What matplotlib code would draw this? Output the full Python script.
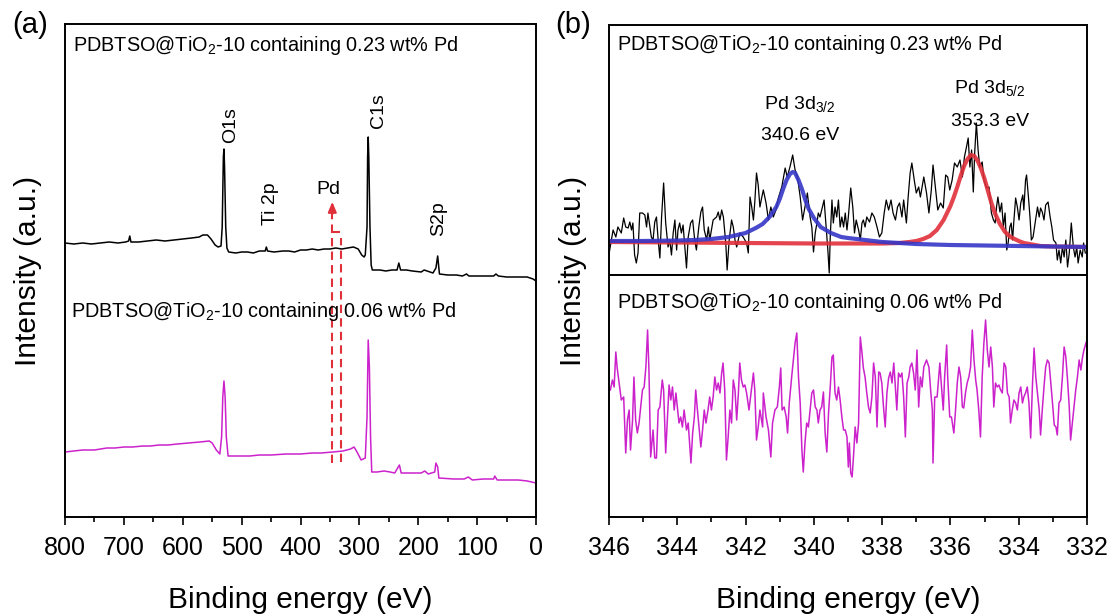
import numpy as np
import matplotlib
matplotlib.use("Agg")
import matplotlib.pyplot as plt
from matplotlib.ticker import MultipleLocator

plt.rcParams['font.family'] = ['Liberation Sans', 'DejaVu Sans']
plt.rcParams['mathtext.fontset'] = 'custom'
plt.rcParams['mathtext.rm'] = 'Liberation Sans'

# ---- data (binding energy in eV, intensity in a.u.) ----
# (a) survey spectra
survey_023 = [(800, 274), (785, 273), (770, 274), (755, 273), (740, 274), (725, 275), (710, 274),
              (697, 275), (692, 276), (690, 281), (688, 275), (675, 275), (660, 276), (645, 277),
              (630, 276), (615, 277), (600, 278), (585, 279), (572, 280), (566, 282), (558, 282),
              (552, 278), (545, 272), (540, 270), (535, 271), (533, 290), (531, 360), (530, 368),
              (529, 350), (527, 290), (525, 269), (522, 265), (510, 264), (500, 265), (490, 265),
              (480, 264), (470, 266), (460, 266), (458, 270), (456, 266), (445, 265), (430, 266),
              (420, 266), (410, 265), (400, 267), (390, 267), (380, 268), (370, 267), (360, 268),
              (350, 268), (340, 269), (330, 268), (320, 269), (310, 270), (302, 268), (296, 262),
              (292, 260), (290, 262), (287, 290), (286, 360), (285, 380), (284, 360), (282, 290),
              (280, 252), (278, 247), (265, 247), (255, 246), (245, 247), (236, 247), (233, 254),
              (230, 247), (220, 247), (210, 246), (195, 245), (190, 247), (185, 246), (175, 244),
              (170, 249), (167, 261), (164, 243), (150, 242), (135, 242), (125, 241), (118, 243),
              (114, 241), (100, 241), (90, 241), (72, 241), (68, 243), (64, 241), (50, 240),
              (30, 240), (15, 240), (5, 238), (0, 236)]

survey_006 = [(800, 65), (785, 66), (770, 67), (750, 67), (729, 69), (715, 69), (700, 70), (685, 70),
              (668, 71), (655, 71), (640, 72), (625, 72), (609, 73), (590, 74), (571, 75), (555, 76),
              (550, 74), (543, 67), (537, 63), (534, 80), (532, 120), (530, 136), (528, 120),
              (526, 80), (523, 61), (505, 61), (486, 61), (470, 62), (450, 62), (425, 63), (410, 63),
              (400, 63), (380, 64), (365, 64), (345, 65), (328, 66), (315, 68), (309, 70), (304, 65),
              (297, 57), (290, 59), (287, 100), (285, 177), (283, 150), (281, 80), (279, 45),
              (270, 45), (258, 46), (248, 45), (240, 44), (234, 50), (232, 52), (229, 44), (210, 44),
              (195, 44), (189, 46), (183, 43), (172, 45), (170, 54), (167, 50), (165, 39), (140, 38),
              (122, 38), (115, 40), (108, 37), (90, 38), (72, 38), (70, 41), (66, 37), (45, 37),
              (30, 37), (15, 36), (0, 34)]

pd_lines = [346, 332]  # region shown in (b)

# (b) Pd 3d region, 0.23 wt% Pd (raw)
pd_023 = [(346.03, 10), (345.98, 23), (345.88, 43), (345.80, 36), (345.74, 46), (345.64, 40),
          (345.57, 55), (345.51, 46), (345.44, 45), (345.39, 51), (345.34, 43), (345.30, 50),
          (345.25, 18), (345.20, 10), (345.15, 20), (345.10, 60), (345.02, 60), (344.95, 58),
          (344.90, 46), (344.86, 60), (344.76, 36), (344.71, 33), (344.66, 51), (344.61, 56),
          (344.56, 33), (344.51, 15), (344.46, 56), (344.40, 90), (344.34, 50), (344.27, 26),
          (344.22, 33), (344.17, 18), (344.12, 40), (344.07, 53), (344.02, 23), (343.98, 43),
          (343.93, 50), (343.88, 40), (343.83, 48), (343.78, 26), (343.73, 5), (343.68, 36),
          (343.61, 50), (343.55, 53), (343.49, 33), (343.44, 23), (343.37, 46), (343.31, 61),
          (343.26, 66), (343.21, 43), (343.14, 33), (343.09, 46), (343.05, 33), (343.00, 43),
          (342.95, 53), (342.85, 56), (342.80, 61), (342.75, 53), (342.70, 63), (342.65, 56),
          (342.58, 30), (342.54, 3), (342.48, 33), (342.41, 53), (342.36, 46), (342.31, 33),
          (342.26, 26), (342.17, 40), (342.07, 36), (341.97, 30), (341.92, 20), (341.87, 76),
          (341.82, 66), (341.77, 53), (341.73, 71), (341.68, 100), (341.63, 88), (341.58, 66),
          (341.53, 75), (341.48, 83), (341.40, 70), (341.33, 53), (341.26, 66), (341.19, 56),
          (341.11, 63), (341.04, 75), (340.94, 86), (340.84, 105), (340.78, 96), (340.70, 106),
          (340.62, 118), (340.55, 103), (340.48, 96), (340.40, 76), (340.33, 53), (340.26, 66),
          (340.19, 80), (340.11, 56), (340.06, 46), (340.01, 21), (339.96, 40), (339.91, 50),
          (339.87, 60), (339.82, 56), (339.77, 63), (339.70, 73), (339.64, 46), (339.59, 23),
          (339.55, 0), (339.52, 36), (339.47, 73), (339.43, 50), (339.38, 66), (339.33, 56),
          (339.28, 73), (339.23, 46), (339.18, 56), (339.13, 46), (339.08, 60), (339.03, 43),
          (338.99, 56), (338.92, 85), (338.86, 66), (338.81, 40), (338.76, 53), (338.69, 43),
          (338.64, 33), (338.59, 50), (338.55, 53), (338.50, 46), (338.45, 56), (338.37, 51),
          (338.30, 60), (338.23, 56), (338.15, 46), (338.08, 36), (338.01, 40), (337.94, 60),
          (337.88, 73), (337.81, 63), (337.74, 73), (337.68, 60), (337.61, 53), (337.55, 66),
          (337.49, 70), (337.42, 56), (337.37, 73), (337.29, 50), (337.24, 75), (337.18, 100),
          (337.13, 110), (337.06, 93), (337.00, 80), (336.93, 86), (336.88, 76), (336.78, 96),
          (336.70, 80), (336.63, 60), (336.56, 83), (336.51, 108), (336.44, 86), (336.37, 63),
          (336.29, 70), (336.21, 65), (336.14, 98), (336.08, 96), (336.02, 83), (335.95, 93),
          (335.88, 110), (335.80, 106), (335.72, 113), (335.65, 96), (335.59, 116), (335.53, 126),
          (335.48, 135), (335.43, 106), (335.38, 123), (335.33, 81), (335.29, 120), (335.24, 150),
          (335.19, 123), (335.14, 106), (335.07, 111), (335.02, 93), (334.94, 85), (334.87, 86),
          (334.80, 60), (334.74, 53), (334.69, 50), (334.65, 66), (334.61, 76), (334.55, 61),
          (334.50, 70), (334.45, 46), (334.40, 60), (334.35, 23), (334.31, 30), (334.26, 46),
          (334.22, 50), (334.18, 33), (334.14, 53), (334.09, 75), (334.04, 66), (333.99, 53),
          (333.94, 70), (333.88, 78), (333.85, 63), (333.80, 93), (333.77, 98), (333.72, 78),
          (333.67, 56), (333.63, 33), (333.58, 36), (333.52, 50), (333.45, 66), (333.40, 56),
          (333.36, 65), (333.31, 61), (333.26, 53), (333.21, 68), (333.14, 71), (333.08, 56),
          (333.03, 46), (332.98, 33), (332.91, 30), (332.87, 13), (332.82, 23), (332.77, 10),
          (332.72, 26), (332.67, 16), (332.62, 33), (332.57, 6), (332.52, 20), (332.46, 50),
          (332.40, 26), (332.35, 16), (332.30, 26), (332.26, 10), (332.20, 23), (332.14, 16),
          (332.10, 30), (332.05, 20)]

# fitted components
fit_32 = [(346.0, 32), (345.0, 32), (344.0, 32.5), (343.5, 33), (343.0, 34), (342.5, 36),
          (342.0, 40), (341.7, 45), (341.5, 49), (341.3, 56), (341.2, 61), (341.1, 66),
          (341.0, 74), (340.9, 84), (340.8, 93), (340.7, 99), (340.62, 101), (340.55, 100),
          (340.45, 93), (340.35, 84), (340.25, 73), (340.15, 64), (340.0, 55), (339.8, 46),
          (339.5, 40), (339.2, 36), (339.0, 35), (338.5, 33), (338.0, 31), (337.0, 29),
          (336.0, 28), (335.0, 27.5), (334.0, 27), (332.0, 26)]
fit_52 = [(346.0, 31), (344.0, 30.5), (342.0, 30), (340.0, 29.5), (338.0, 29.5), (337.5, 30),
          (337.2, 31), (337.0, 32), (336.8, 34), (336.6, 37), (336.4, 43), (336.2, 53),
          (336.0, 67), (335.9, 76), (335.8, 86), (335.7, 97), (335.6, 107), (335.5, 114),
          (335.4, 118), (335.3, 117), (335.2, 112), (335.1, 104), (335.0, 94), (334.9, 82),
          (334.8, 70), (334.7, 60), (334.55, 49), (334.4, 41), (334.24, 36), (334.0, 32),
          (333.85, 30), (333.36, 27), (333.0, 26.5), (332.0, 26)]

# (b) Pd 3d region, 0.06 wt% Pd
pd_006 = [(346.03, 127), (345.96, 127), (345.90, 137), (345.85, 130), (345.80, 165), (345.76, 149),
          (345.69, 130), (345.64, 117), (345.57, 120), (345.51, 64), (345.46, 97), (345.41, 107),
          (345.37, 67), (345.31, 97), (345.27, 140), (345.22, 97), (345.17, 84), (345.12, 94),
          (345.08, 107), (345.02, 127), (344.97, 130), (344.92, 150), (344.87, 187), (344.83, 147),
          (344.78, 60), (344.71, 87), (344.66, 59), (344.61, 59), (344.56, 107), (344.51, 110),
          (344.44, 137), (344.40, 127), (344.34, 64), (344.29, 97), (344.24, 132), (344.19, 117),
          (344.14, 130), (344.09, 107), (344.04, 124), (343.99, 107), (343.95, 94), (343.90, 100),
          (343.85, 90), (343.80, 107), (343.73, 87), (343.68, 94), (343.60, 54), (343.55, 84),
          (343.50, 100), (343.46, 127), (343.41, 107), (343.31, 70), (343.26, 87), (343.21, 107),
          (343.16, 94), (343.10, 107), (343.05, 120), (343.00, 107), (342.95, 120), (342.90, 140),
          (342.85, 127), (342.80, 134), (342.75, 124), (342.70, 144), (342.66, 154), (342.61, 127),
          (342.56, 57), (342.51, 80), (342.46, 107), (342.41, 94), (342.36, 137), (342.31, 127),
          (342.26, 97), (342.21, 124), (342.17, 154), (342.12, 137), (342.07, 130), (342.02, 132),
          (341.97, 124), (341.90, 107), (341.84, 124), (341.77, 144), (341.73, 127), (341.68, 77),
          (341.63, 90), (341.58, 107), (341.50, 90), (341.48, 124), (341.40, 100), (341.33, 87),
          (341.26, 60), (341.21, 94), (341.14, 107), (341.07, 110), (341.01, 130), (340.97, 149),
          (340.93, 107), (340.87, 110), (340.81, 100), (340.77, 84), (340.72, 114), (340.65, 140),
          (340.60, 157), (340.55, 174), (340.50, 184), (340.45, 140), (340.40, 114), (340.35, 67),
          (340.31, 45), (340.26, 74), (340.21, 94), (340.16, 90), (340.11, 107), (340.06, 124),
          (340.01, 127), (339.96, 110), (339.91, 107), (339.87, 94), (339.82, 107), (339.77, 110),
          (339.72, 125), (339.67, 84), (339.62, 65), (339.57, 104), (339.52, 130), (339.47, 160),
          (339.43, 162), (339.38, 124), (339.33, 117), (339.28, 130), (339.23, 117), (339.18, 100),
          (339.13, 87), (339.08, 87), (339.03, 80), (338.99, 50), (338.96, 74), (338.92, 44),
          (338.88, 40), (338.84, 60), (338.79, 90), (338.74, 74), (338.69, 94), (338.64, 180),
          (338.59, 164), (338.55, 149), (338.50, 140), (338.45, 124), (338.40, 110), (338.35, 104),
          (338.30, 120), (338.25, 154), (338.20, 140), (338.15, 90), (338.10, 145), (338.06, 144),
          (338.01, 134), (337.96, 110), (337.91, 90), (337.86, 124), (337.81, 139), (337.76, 145),
          (337.71, 134), (337.66, 154), (337.62, 134), (337.57, 107), (337.52, 144), (337.47, 140),
          (337.42, 144), (337.37, 120), (337.32, 80), (337.27, 134), (337.22, 140), (337.18, 150),
          (337.13, 154), (337.08, 144), (337.03, 127), (336.98, 167), (336.93, 110), (336.88, 140),
          (336.83, 130), (336.78, 150), (336.70, 157), (336.63, 150), (336.58, 127), (336.53, 107),
          (336.51, 54), (336.46, 120), (336.39, 120), (336.31, 154), (336.27, 134), (336.21, 107),
          (336.17, 140), (336.11, 172), (336.08, 140), (336.02, 100), (335.97, 100), (335.90, 84),
          (335.85, 107), (335.80, 134), (335.75, 150), (335.70, 140), (335.65, 110), (335.61, 109),
          (335.56, 124), (335.51, 134), (335.46, 140), (335.41, 150), (335.36, 187), (335.31, 157),
          (335.26, 137), (335.22, 127), (335.17, 107), (335.12, 80), (335.07, 140), (335.02, 174),
          (334.97, 197), (334.92, 167), (334.87, 150), (334.82, 170), (334.77, 150), (334.73, 110),
          (334.68, 134), (334.63, 130), (334.58, 132), (334.53, 127), (334.48, 124), (334.43, 154),
          (334.38, 150), (334.33, 124), (334.28, 120), (334.24, 94), (334.19, 107), (334.14, 117),
          (334.09, 114), (334.04, 107), (333.99, 124), (333.94, 130), (333.89, 114), (333.85, 120),
          (333.80, 124), (333.75, 130), (333.70, 114), (333.65, 79), (333.60, 130), (333.55, 169),
          (333.50, 140), (333.45, 124), (333.40, 107), (333.36, 82), (333.31, 107), (333.26, 130),
          (333.21, 150), (333.16, 157), (333.11, 154), (333.06, 134), (333.01, 114), (332.96, 92),
          (332.91, 90), (332.87, 82), (332.82, 114), (332.77, 117), (332.72, 140), (332.67, 170),
          (332.62, 160), (332.57, 137), (332.52, 110), (332.48, 77), (332.43, 94), (332.38, 110),
          (332.33, 127), (332.28, 140), (332.23, 157), (332.18, 147), (332.13, 160), (332.09, 167),
          (332.02, 175)]

survey_ticks = [800, 700, 600, 500, 400, 300, 200, 100, 0]
pd_ticks = [346, 344, 342, 340, 338, 336, 334, 332]
sample_023 = r'PDBTSO@TiO$_\mathregular{2}$-10 containing 0.23 wt% Pd'
sample_006 = r'PDBTSO@TiO$_\mathregular{2}$-10 containing 0.06 wt% Pd'

MAGENTA = '#cc22cc'
RED = '#e0303a'
BLUE = '#3636c8'
W, H = 1110, 614

fig = plt.figure(figsize=(W / 100, H / 100), dpi=100)


def px_axes(l, t, r, b):
    return fig.add_axes([l / W, 1 - b / H, (r - l) / W, (b - t) / H])


def style(ax, show_x=True):
    for s in ax.spines.values():
        s.set_linewidth(1.4)
    ax.tick_params(axis='y', left=False, labelleft=False)
    if show_x:
        ax.tick_params(axis='x', which='major', direction='out', length=6, width=1.2,
                       labelsize=18, pad=8, top=False)
        ax.tick_params(axis='x', which='minor', direction='out', length=3.5, width=1.2, top=False)
    else:
        ax.tick_params(axis='x', which='both', bottom=False, labelbottom=False)


# ---------------- (a) survey ----------------
axa = px_axes(65, 24, 536, 517)
e, i = np.array(survey_023).T
axa.plot(e, i, color='black', lw=1.1)
e, i = np.array(survey_006).T
axa.plot(e, i, color=MAGENTA, lw=1.1)
axa.set_xlim(800, 0)
axa.set_ylim(0, 493)
axa.set_xticks(survey_ticks)
axa.set_xticklabels([str(t) for t in survey_ticks])
axa.xaxis.set_minor_locator(MultipleLocator(50))
style(axa)

dash = (0, (4, 2.5))
axa.plot([pd_lines[0], pd_lines[0]], [54, 304], color=RED, lw=1.5, ls=dash)
axa.plot([pd_lines[1], pd_lines[1]], [55, 279], color=RED, lw=1.5, ls=dash)
axa.plot([pd_lines[0], 335], [285, 285], color=RED, lw=1.5)
axa.annotate('', xy=(pd_lines[0], 318), xytext=(pd_lines[0], 300),
             arrowprops=dict(arrowstyle='-|>,head_length=0.6,head_width=0.25', color=RED, lw=1.5))

lab = dict(fontsize=14, ha='center', va='center')
axa.text(518, 392, 'O1s', rotation=90, **lab)
axa.text(451, 313, 'Ti 2p', rotation=90, **lab)
axa.text(268, 406, 'C1s', rotation=90, **lab)
axa.text(165, 298, 'S2p', rotation=90, **lab)
axa.text(352, 327, 'Pd', **lab)
axa.text(0.017, 0.957, sample_023, transform=axa.transAxes, fontsize=14.3, va='center')
axa.text(0.013, 0.416, sample_006, transform=axa.transAxes, fontsize=14.3, va='center')

# ---------------- (b) Pd 3d ----------------
axb1 = px_axes(609, 25, 1087, 275)
axb2 = px_axes(609, 275, 1087, 517)

e, i = np.array(pd_023).T
axb1.plot(e, i, color='black', lw=0.9)
e, i = np.array(fit_52).T
axb1.plot(e, i, color=RED, lw=3, alpha=0.9, solid_capstyle='round')
e, i = np.array(fit_32).T
axb1.plot(e, i, color=BLUE, lw=3, alpha=0.9, solid_capstyle='round')
axb1.set_xlim(346, 332)
axb1.set_ylim(-2, 248)
style(axb1, show_x=False)
axb1.text(0.017, 0.92, sample_023, transform=axb1.transAxes, fontsize=14.3, va='center')
axb1.text(340.4, 168, r'Pd 3d$_\mathregular{3/2}$', fontsize=14, ha='center', va='center')
axb1.text(340.4, 138, '340.6 eV', fontsize=14, ha='center', va='center')
axb1.text(334.85, 184, r'Pd 3d$_\mathregular{5/2}$', fontsize=14, ha='center', va='center')
axb1.text(334.85, 152, '353.3 eV', fontsize=14, ha='center', va='center')

e, i = np.array(pd_006).T
axb2.plot(e, i, color=MAGENTA, lw=1.1)
axb2.set_xlim(346, 332)
axb2.set_ylim(0, 242)
axb2.set_xticks(pd_ticks)
axb2.set_xticklabels([str(t) for t in pd_ticks])
axb2.xaxis.set_minor_locator(MultipleLocator(1))
style(axb2)
axb2.text(0.017, 0.888, sample_006, transform=axb2.transAxes, fontsize=14.3, va='center')

# labels
fig.text(30 / W, 1 - 25 / H, '(a)', fontsize=21, ha='center', va='center')
fig.text(573 / W, 1 - 25 / H, '(b)', fontsize=21, ha='center', va='center')
fig.text(28 / W, 1 - 271 / H, 'Intensity (a.u.)', fontsize=21.5, rotation=90, ha='center', va='center')
fig.text(573 / W, 1 - 271 / H, 'Intensity (a.u.)', fontsize=21.5, rotation=90, ha='center', va='center')
fig.text(300 / W, 1 - 608 / H, 'Binding energy (eV)', fontsize=21.5, ha='center', va='baseline')
fig.text(848 / W, 1 - 608 / H, 'Binding energy (eV)', fontsize=21.5, ha='center', va='baseline')

fig.savefig('out.png', dpi=100)
